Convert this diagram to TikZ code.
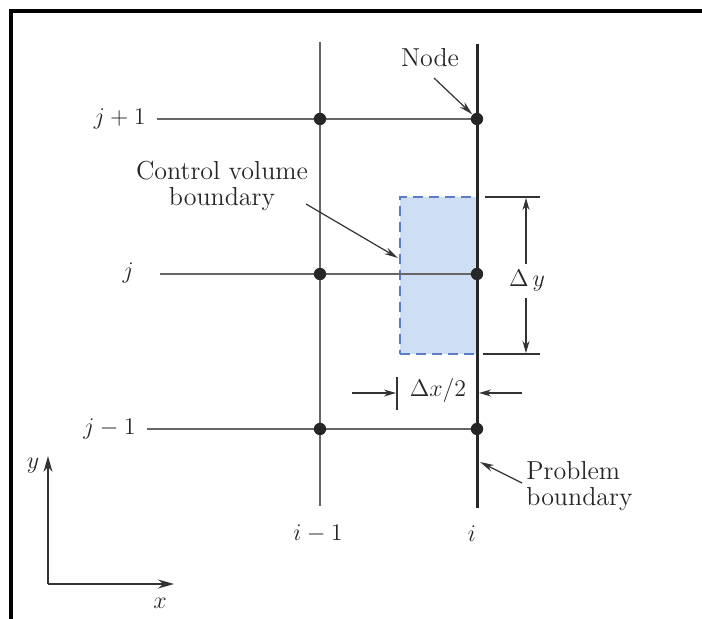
\documentclass[tikz,border=0pt]{standalone}
\usetikzlibrary{arrows.meta}
\begin{document}
\begin{tikzpicture}[x=0.5pt,y=-0.5pt,
  lbl/.style={font=\fontsize{13}{15}\selectfont, inner sep=1pt, text=black!85},
  grid/.style={line width=0.55pt, draw=black!60},
  bnd/.style={line width=1.5pt, draw=black!85},
  dot/.style={circle, fill=black!85, minimum size=6.2pt, inner sep=0pt},
  ptr/.style={line width=0.6pt, draw=black!80, -{Stealth[length=7pt,width=3.5pt]}},
  dim/.style={line width=0.6pt, draw=black!80},
  frame/.style={line width=1.6pt}]
\useasboundingbox (0,0) rectangle (702,619);
% frame
\draw[frame] (702,11) -- (11,11) -- (11,619);
% control volume
\node[draw={rgb,255:red,90;green,125;blue,200}, dashed, dash pattern=on 5pt off 3pt, line width=0.7pt,
  fill={rgb,255:red,205;green,222;blue,245}, minimum width=38.5pt, minimum height=78.5pt, inner sep=0pt]
  (cv) at (438.5,275.5) {};
% grid
\coordinate (a1) at (320,119); \coordinate (b1) at (477,119);
\coordinate (a0) at (320,274); \coordinate (b0) at (477,274);
\coordinate (am) at (320,429); \coordinate (bm) at (477,429);
\coordinate (itop) at (320,42); \coordinate (ibot) at (320,506);
\coordinate (btop) at (477,44); \coordinate (bbot) at (477,508);
\node[lbl, anchor=east] (jp) at (148,119) {$j+1$};
\node[lbl, anchor=east] (j0) at (136,273) {$j$};
\node[lbl, anchor=east] (jm) at (138,429) {$j-1$};
\coordinate (s1) at (157,119);
\coordinate (s0) at (160,274);
\coordinate (sm) at (147,429);
\draw[grid] (s1) -- (b1);
\draw[grid] (s0) -- (b0);
\draw[grid] (sm) -- (bm);
\draw[grid] (itop) -- (ibot);
\draw[bnd] (btop) -- (bbot);
\node[dot] (d1) at (a1) {}; \node[dot] (d2) at (b1) {};
\node[dot] (d3) at (a0) {}; \node[dot] (d4) at (b0) {};
\node[dot] (d5) at (am) {}; \node[dot] (d6) at (bm) {};
\node[lbl] (im) at (318,534) {$i-1$};
\node[lbl] (ii) at (472,534) {$i$};
% Node label
\node[lbl] (nl) at (430,58) {Node};
\draw[ptr] (434,78) -- (d2.north west);
% Control volume boundary label
\node[lbl, align=center] (cvl) at (222,186) {Control volume\\[-2pt]boundary};
\draw[ptr] (306,204) -- (398,258);
% Problem boundary
\node[lbl, align=left, anchor=west] (pb) at (524,486) {Problem\\[-2pt]boundary};
\draw[ptr] (522,483) -- (480,462);
% Delta y
\draw[dim] (485,197) -- (540,197);
\draw[dim] (483,354) -- (540,354);
\draw[dim, {Stealth[length=6pt,width=3.5pt]}-{Stealth[length=6pt,width=3.5pt]}] (526,198) -- (526,353);
\node[lbl, fill=white, inner sep=3pt] (dy) at (527,281) {$\Delta\, y$};
% Delta x/2
\draw[dim] (397,377) -- (397,410);
\draw[dim, -{Stealth[length=6pt,width=3.5pt]}] (352,393) -- (396,393);
\draw[dim, -{Stealth[length=6pt,width=3.5pt]}] (522,393) -- (479,393);
\node[lbl] (dx) at (438,391) {$\Delta x/2$};
% axes
\coordinate (o) at (48,584);
\draw[line width=0.7pt, draw=black!80, -{Stealth[length=8pt,width=4.5pt]}] (o) -- (48,456);
\draw[line width=0.7pt, draw=black!80, -{Stealth[length=8pt,width=4.5pt]}] (o) -- (174,584);
\node[lbl] (yl) at (33,466) {$y$};
\node[lbl] (xl) at (160,603) {$x$};
\end{tikzpicture}
\end{document}
